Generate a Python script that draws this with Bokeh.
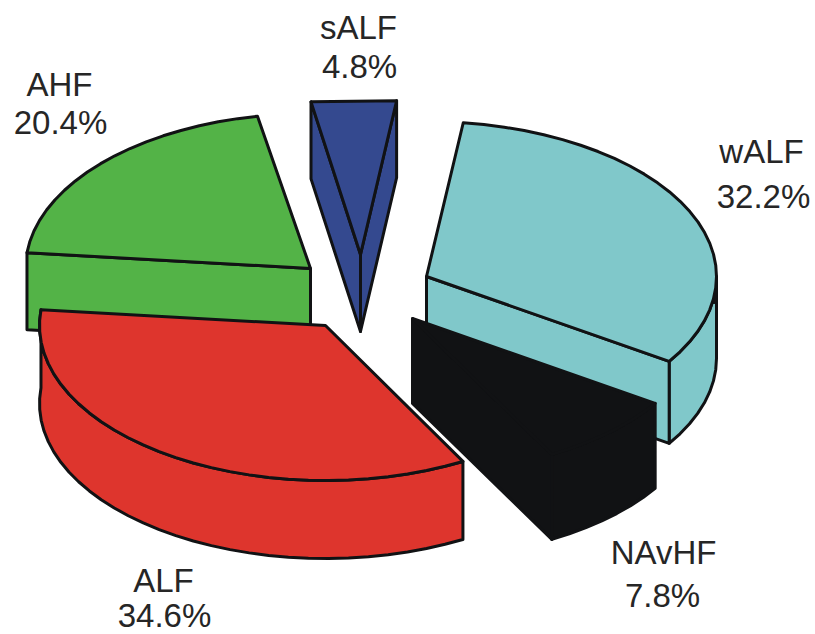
import numpy as np
from bokeh.core.properties import value
from bokeh.embed import file_html
from bokeh.models import ColumnDataSource, Range1d
from bokeh.plotting import figure
from bokeh.resources import INLINE

# Category shares, in percent, clockwise from the small blue slice
categories = ["sALF", "wALF", "NAvHF", "ALF", "AHF"]
shares = [4.8, 32.2, 7.8, 34.6, 20.4]
colors = ["#34498F", "#80C8CA", "#111214", "#DE352D", "#53B347"]

# Exploded pie geometry in screen pixels
START_DEG = 350.0
RY = 155.0
radius_x = {"sALF": 285, "wALF": 290, "NAvHF": 290, "ALF": 286, "AHF": 285}
apex = {"sALF": (360, 254), "wALF": (426, 276), "NAvHF": (412, 318),
        "ALF": (325, 325), "AHF": (310, 268)}
depth = {"sALF": 77, "wALF": 82, "NAvHF": 85, "ALF": 78, "AHF": 77}
arc_step = {"sALF": 20, "wALF": 4, "NAvHF": 4, "ALF": 4, "AHF": 4}

# Label placement: name line and percent line
name_pos = {"sALF": (358, 27), "AHF": (59, 84), "wALF": (761, 151),
            "NAvHF": (663, 552), "ALF": (163, 580)}
pct_pos = {"sALF": (359, 66), "AHF": (60, 122), "wALF": (763, 196),
           "NAvHF": (662, 595), "ALF": (164, 615)}

INK = "#111214"

p = figure(width=815, height=634, output_backend="svg", toolbar_location=None,
           x_range=Range1d(0, 815), y_range=Range1d(634, 0),
           min_border=0, outline_line_color=None)
p.axis.visible = False
p.grid.visible = False


def rim(name, t_deg):
    """Point on the top rim of a slice at the given pie angle."""
    t = np.radians(t_deg)
    cx, cy = apex[name]
    return cx + radius_x[name] * np.sin(t), cy - RY * np.cos(t)


def arc(name, t0, t1, drop=0.0):
    n = max(2, int(abs(t1 - t0) / arc_step[name]) + 1)
    xs, ys = rim(name, np.linspace(t0, t1, n))
    return list(xs), list(ys + drop)


def draw(xs, ys, color):
    p.patch(xs, ys, fill_color=color, line_color=INK, line_width=3,
            line_join="round")


def quad(name, t, color):
    """Flat cut face running from the apex to the rim at angle t."""
    cx, cy = apex[name]
    ex, ey = rim(name, t)
    h = depth[name]
    draw([cx, ex, ex, cx], [cy, ey, ey + h, cy + h], color)


def wall(name, t0, t1, color):
    """Outer curved wall between two pie angles."""
    xa, ya = arc(name, t0, t1)
    xb, yb = arc(name, t1, t0, depth[name])
    draw(xa + xb, ya + yb, color)


def top(name, t0, t1, color):
    cx, cy = apex[name]
    xa, ya = arc(name, t0, t1)
    draw([cx] + xa, [cy] + ya, color)


# Angular extent of each slice from its share
edges = START_DEG + np.cumsum([0] + [s * 3.6 for s in shares])
span = {c: (edges[i], edges[i + 1]) for i, c in enumerate(categories)}
col = dict(zip(categories, colors))

# Back to front so nearer slices cover farther ones
a, b = span["wALF"]
wall("wALF", 360 + 90, b, col["wALF"])
quad("wALF", b, col["wALF"])
top("wALF", a, b, col["wALF"])

# Dark sliver where the rim turns into the outer wall
xs, ys = arc("wALF", 360 + 90, 360 + 100)
p.patch(xs + [xs[0]], ys + [ys[-1]], fill_color=INK, line_color=INK, line_width=1)

a, b = span["NAvHF"]
wall("NAvHF", a, b, col["NAvHF"])
quad("NAvHF", b, col["NAvHF"])
top("NAvHF", a, b, col["NAvHF"])

a, b = span["AHF"]
quad("AHF", a, col["AHF"])
top("AHF", a, b, col["AHF"])

a, b = span["ALF"]
wall("ALF", a, b, col["ALF"])
top("ALF", a, b, col["ALF"])

a, b = span["sALF"]
quad("sALF", a, col["sALF"])
quad("sALF", b, col["sALF"])
top("sALF", a, b, col["sALF"])

# Two-line labels: category name above its percentage
source = ColumnDataSource(dict(
    x=[name_pos[c][0] for c in categories] + [pct_pos[c][0] for c in categories],
    y=[name_pos[c][1] for c in categories] + [pct_pos[c][1] for c in categories],
    label=categories + [f"{s}%" for s in shares],
))
p.text("x", "y", text="label", source=source, text_font=value("Liberation Sans"),
       text_font_size="33px", text_color="#262626", text_align="center",
       text_baseline="middle")

open("out.html", "w").write(file_html(p, INLINE))
